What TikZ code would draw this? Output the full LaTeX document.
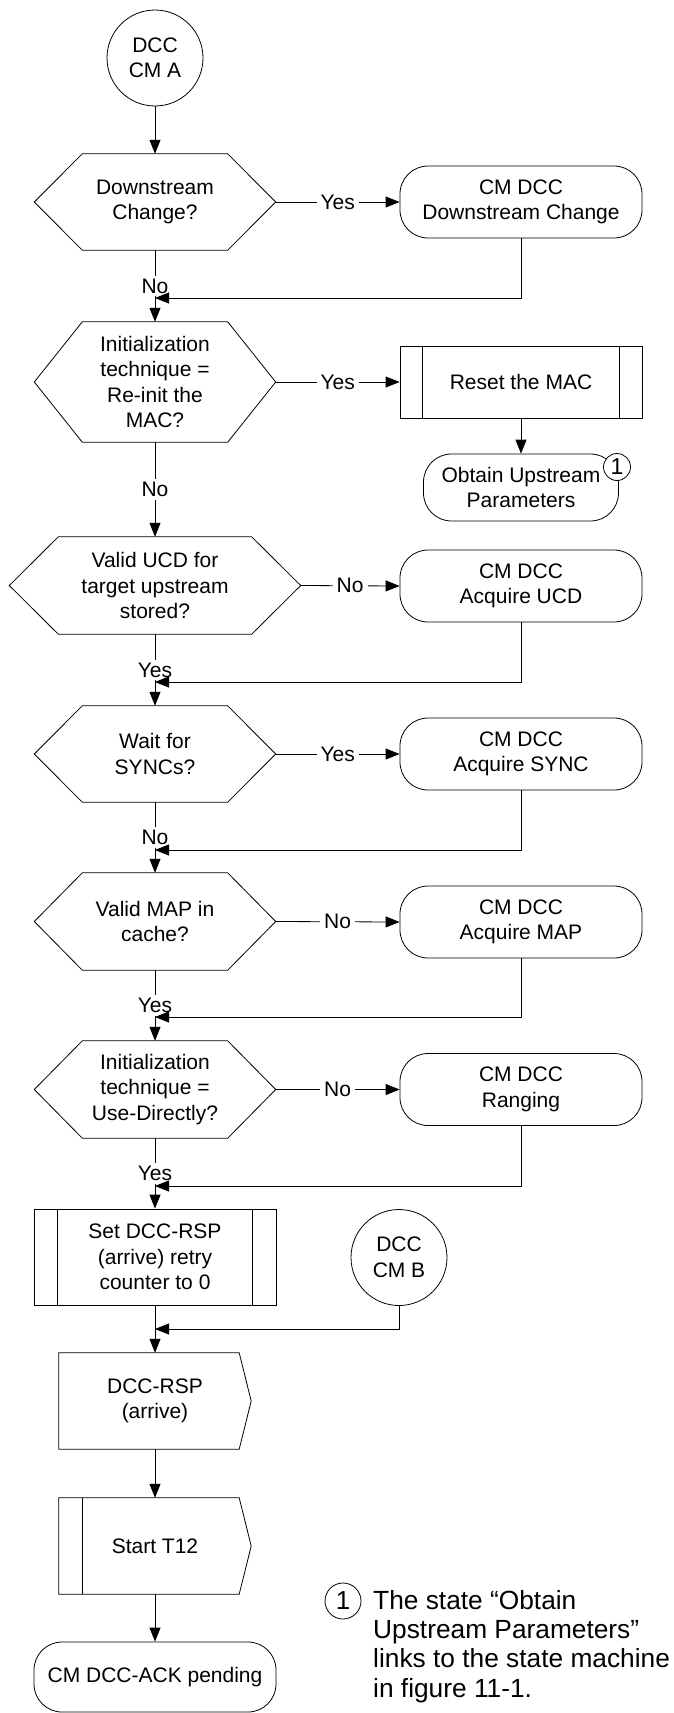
\documentclass[tikz,border=0pt]{standalone}
\usepackage{fontspec}
\setmainfont{Liberation Sans}
\usetikzlibrary{arrows.meta}
\newcommand\hexa[2]{\draw[ln] ([xshift=#2]#1.north west) -- ([xshift=-#2]#1.north east) -- (#1.east) -- ([xshift=-#2]#1.south east) -- ([xshift=#2]#1.south west) -- (#1.west) -- cycle;}
\newcommand\procbars[2]{\draw[ln] ([xshift=#2]#1.north west) -- ([xshift=#2]#1.south west); \draw[ln] ([xshift=-#2]#1.north east) -- ([xshift=-#2]#1.south east);}
\newcommand\outshape[2]{\draw[ln] (#1.north west) -- ([xshift=-#2]#1.north east) -- (#1.east) -- ([xshift=-#2]#1.south east) -- (#1.south west) -- cycle;}
\begin{document}
\begin{tikzpicture}[x=1pt,y=-1pt,
  every node/.style={font=\fontsize{21}{25.5}\selectfont, align=center, inner sep=0pt},
  ln/.style={line width=0.8pt, draw=black},
  arr/.style={ln, -{Triangle[length=14pt,width=11pt]}},
  lab/.style={fill=white, inner xsep=4pt, inner ysep=3pt},
  dec/.style={draw=none, minimum width=241pt, minimum height=96pt},
  term/.style={ln, rounded corners=28pt, minimum width=242pt, minimum height=72pt},
  proc/.style={ln, minimum width=242pt, minimum height=72pt},
  conn/.style={ln, circle, minimum size=96pt},
  outbox/.style={draw=none, minimum width=192pt, minimum height=96pt},
  ref/.style={ln, circle, fill=white}
]
\useasboundingbox (0,0) rectangle (674,1713);

% left column
\node[conn] (ca) at (155,58) {DCC\\CM A};
\node[dec] (d1) at (155,202) {Downstream\\Change?};
\node[dec, minimum height=120pt] (d2) at (155,382) {Initialization\\technique =\\Re-init the\\MAC?};
\node[dec, minimum width=291pt, minimum height=97pt] (d3) at (155,585.5) {Valid UCD for\\target upstream\\stored?};
\node[dec] (d4) at (155,754) {Wait for\\SYNCs?};
\node[dec, minimum height=97pt] (d5) at (155,921.5) {Valid MAP in\\cache?};
\node[dec, minimum height=97pt] (d6) at (155,1089.5) {Initialization\\technique =\\Use-Directly?};
\hexa{d1}{48pt}
\hexa{d2}{48pt}
\hexa{d3}{49pt}
\hexa{d4}{48pt}
\hexa{d5}{48pt}
\hexa{d6}{48pt}

\node[proc, minimum height=96pt] (set) at (155,1257) {Set DCC-RSP\\(arrive) retry\\counter to 0};
\procbars{set}{24pt}
\node[outbox] (rsp) at (155,1401) {DCC-RSP\\(arrive)};
\outshape{rsp}{12pt}
\node[outbox] (t12) at (155,1546) {Start T12};
\outshape{t12}{12pt}
\draw[ln] ([xshift=24pt]t12.north west) -- ([xshift=24pt]t12.south west);
\node[term, minimum height=70pt] (fin) at (155,1677) {CM DCC-ACK pending};

% right column
\node[term] (b1) at (521,202) {CM DCC\\Downstream Change};
\node[proc] (reset) at (521,382) {Reset the MAC};
\procbars{reset}{23pt}
\node[term, minimum width=195pt, minimum height=67pt] (obt) at (521,487.5) {Obtain Upstream\\Parameters};
\node[ref, minimum size=27pt, font=\fontsize{23}{26}\selectfont] (r1) at (617,467) {1};
\node[term] (b3) at (521,586) {CM DCC\\Acquire UCD};
\node[term] (b4) at (521,754) {CM DCC\\Acquire SYNC};
\node[term] (b5) at (521,922) {CM DCC\\Acquire MAP};
\node[term] (b6) at (521,1089.5) {CM DCC\\Ranging};
\node[conn] (cb) at (399,1257.5) {DCC\\CM B};

% merge points
\coordinate (m1) at (155,298);
\coordinate (m3) at (155,682);
\coordinate (m4) at (155,850);
\coordinate (m5) at (155,1017);
\coordinate (m6) at (155,1186);
\coordinate (m7) at (155,1329);

% vertical flow
\draw[arr] (ca) -- (d1);
\draw[arr] (d1) -- node[lab]{No} (d2);
\draw[arr] (d2) -- node[lab]{No} (d3);
\draw[arr] (d3) -- node[lab]{Yes} (d4);
\draw[arr] (d4) -- node[lab]{No} (d5);
\draw[arr] (d5) -- node[lab]{Yes} (d6);
\draw[arr] (d6) -- node[lab]{Yes} (set);
\draw[arr] (set) -- (rsp);
\draw[arr] (rsp) -- (t12);
\draw[arr] (t12) -- (fin);

% branches
\draw[arr] (d1.east) -- node[lab]{Yes} (b1.west);
\draw[arr] (d2.east) -- node[lab]{Yes} (reset.west);
\draw[arr] (reset) -- (obt);
\draw[arr] (d3.east) -- node[lab]{No} (b3.west);
\draw[arr] (d4.east) -- node[lab]{Yes} (b4.west);
\draw[arr] (d5.east) -- node[lab]{No} (b5.west);
\draw[arr] (d6.east) -- node[lab]{No} (b6.west);

% returns
\draw[arr] (b1.south) |- (m1);
\draw[arr] (b3.south) |- (m3);
\draw[arr] (b4.south) |- (m4);
\draw[arr] (b5.south) |- (m5);
\draw[arr] (b6.south) |- (m6);
\draw[arr] (cb.south) |- (m7);

% footnote
\node[ref, minimum size=36pt, font=\fontsize{26}{30}\selectfont] (r2) at (343,1601) {1};
\node[anchor=north west, align=left, font=\fontsize{26.3}{29.3}\selectfont] (note) at (373,1590) {The state “Obtain\\Upstream Parameters”\\links to the state machine\\in figure 11-1.};
\end{tikzpicture}
\end{document}
